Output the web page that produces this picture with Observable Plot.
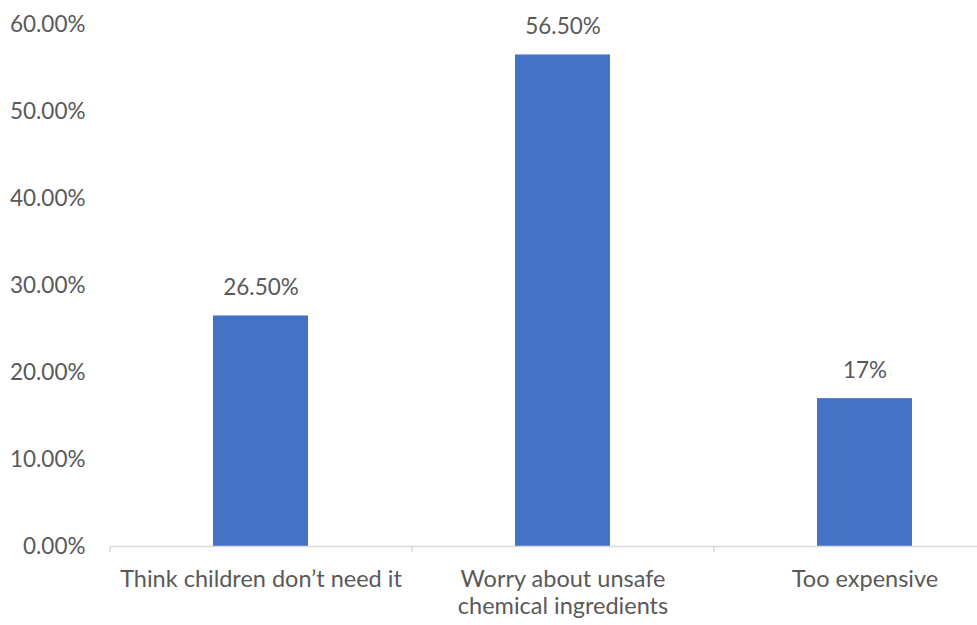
<!DOCTYPE html>
<html>
<head>
<meta charset="utf-8">
<script src="https://cdn.jsdelivr.net/npm/d3@7"></script>
<script src="https://cdn.jsdelivr.net/npm/@observablehq/plot@0.6"></script>
<style>
  html, body { margin: 0; padding: 0; background: #fff; }
  #chart svg { display: block; font-family: Lato, "Open Sans", sans-serif; }
</style>
</head>
<body>
<div id="chart"></div>
<script>
// Reasons given, share of respondents (%)
const categories = [
  "Think children don\u2019t need it",
  "Worry about unsafe\nchemical ingredients",
  "Too expensive"
];
const values = [26.5, 56.5, 17];
const valueLabels = ["26.50%", "56.50%", "17%"];

const yTicks = [0, 10, 20, 30, 40, 50, 60];
const yTickLabels = ["0.00%", "10.00%", "20.00%", "30.00%", "40.00%", "50.00%", "60.00%"];

const data = categories.map((c, i) => ({category: c, value: values[i], label: valueLabels[i]}));

const textColor = "#595959";
const barColor = "#4472C4";
const axisColor = "#d9d9d9";
const left = 110, step = 302;

const chart = Plot.plot({
  width: 977,
  height: 625,
  marginLeft: left,
  marginRight: 0,
  marginTop: 24,
  marginBottom: 79,
  style: {fontSize: "22px", color: textColor, background: "#fff"},
  x: {domain: categories, range: [left, left + step * categories.length], paddingInner: 0.685, paddingOuter: 0.3425},
  y: {domain: [0, 60]},
  marks: [
    Plot.barY(data, {x: "category", y: "value", fill: barColor}),
    Plot.ruleY([0], {stroke: axisColor, strokeWidth: 1.5}),
    // category boundary ticks under the baseline
    Plot.ruleX(categories, {x: d => d, dx: -step / 2, y1: 0, y2: -0.7, stroke: axisColor, strokeWidth: 1.5}),
    Plot.text(data, {x: "category", y: "value", text: "label", dy: -28, fill: textColor, fontSize: 22.5}),
    Plot.axisY(yTicks, {
      tickSize: 0, tickPadding: 25, fontSize: 22.5, fill: textColor,
      tickFormat: d => yTickLabels[yTicks.indexOf(d)], label: null
    }),
    Plot.axisX({tickSize: 0, tickPadding: 21, fontSize: 23.5, fill: textColor, lineHeight: 1.15, label: null})
  ]
});

document.getElementById("chart").append(chart);
</script>
</body>
</html>
